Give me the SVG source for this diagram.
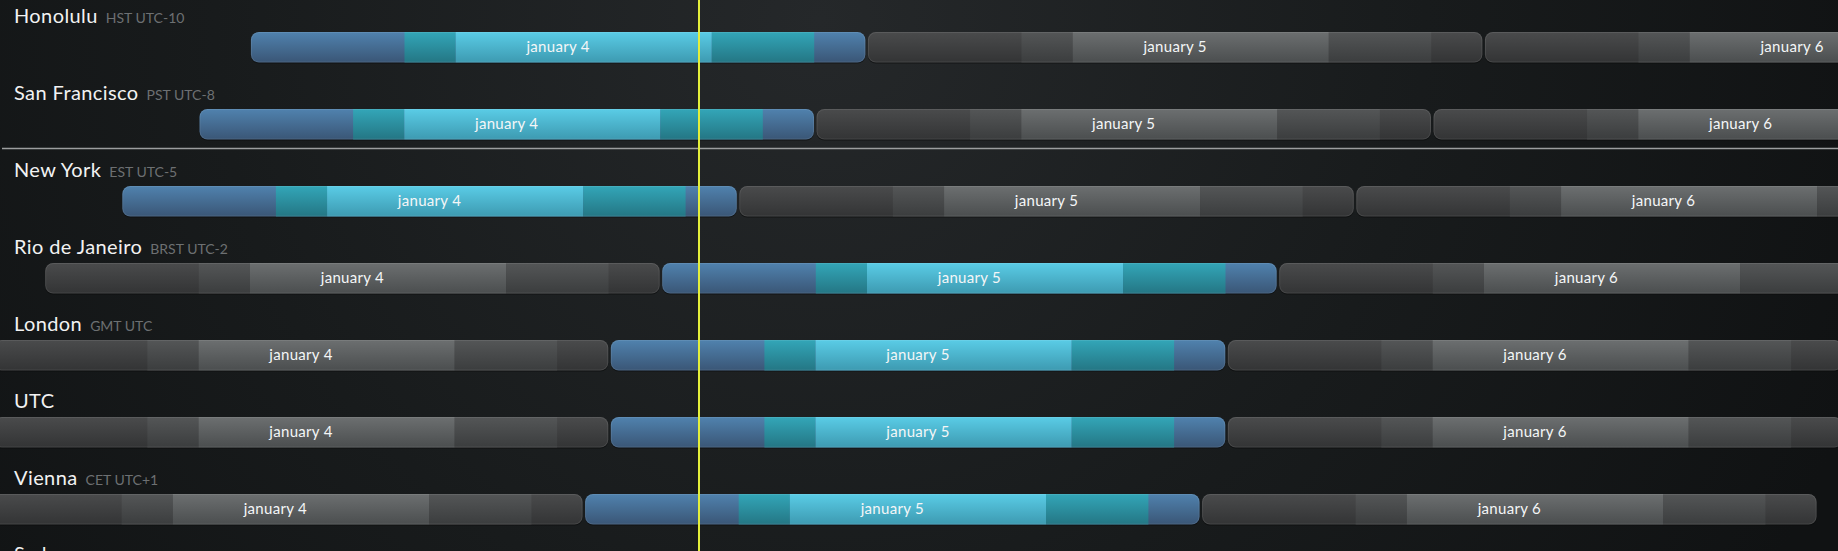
<svg xmlns="http://www.w3.org/2000/svg" width="1838" height="551" viewBox="0 0 1838 551">
<defs>
<radialGradient id="bg" cx="820" cy="20" r="1100" gradientUnits="userSpaceOnUse">
<stop offset="0" stop-color="#25282a"/>
<stop offset="0.55" stop-color="#181b1c"/>
<stop offset="1" stop-color="#101213"/>
</radialGradient>
<linearGradient id="gBlue" x1="0" y1="0" x2="0" y2="1"><stop offset="0" stop-color="#5082ae"/><stop offset="1" stop-color="#3a5676"/></linearGradient>
<linearGradient id="gTeal" x1="0" y1="0" x2="0" y2="1"><stop offset="0" stop-color="#33a6b8"/><stop offset="1" stop-color="#247684"/></linearGradient>
<linearGradient id="gCyan" x1="0" y1="0" x2="0" y2="1"><stop offset="0" stop-color="#5accE6"/><stop offset="1" stop-color="#3d9ab1"/></linearGradient>
<linearGradient id="gDark" x1="0" y1="0" x2="0" y2="1"><stop offset="0" stop-color="#4a4b4c"/><stop offset="1" stop-color="#333435"/></linearGradient>
<linearGradient id="gMid" x1="0" y1="0" x2="0" y2="1"><stop offset="0" stop-color="#545657"/><stop offset="1" stop-color="#3b3d3e"/></linearGradient>
<linearGradient id="gLight" x1="0" y1="0" x2="0" y2="1"><stop offset="0" stop-color="#6c6f70"/><stop offset="1" stop-color="#4b4e4f"/></linearGradient>
<style>
.name{font-family:Lato,"Open Sans","Liberation Sans",sans-serif;font-size:20px;fill:#f2f2f2;letter-spacing:0.4px}
.tz{font-family:Lato,"Open Sans","Liberation Sans",sans-serif;font-size:14px;fill:#6d7072;letter-spacing:0}
.day{font-family:Lato,"Open Sans","Liberation Sans",sans-serif;font-size:15px;fill:#f4f6f7;text-anchor:middle;letter-spacing:0.3px}
.edge{fill:none;stroke:#ffffff;stroke-opacity:0.09;stroke-width:1}
.shadow{fill:#0a0b0c;opacity:0.6}
.sep{stroke:#9c9e9f;stroke-width:1.3}
.now{stroke:#e4ef3a;stroke-width:2}
</style>
<g id="barOn">
<rect class="shadow" x="0" y="1" width="614.5" height="30.5" rx="8"/>
<rect x="0" y="0" width="614.5" height="30.5" rx="8" fill="url(#gBlue)"/>
<rect x="153.6" y="0" width="51.2" height="30.5" fill="url(#gTeal)"/>
<rect x="204.8" y="0" width="256.1" height="30.5" fill="url(#gCyan)"/>
<rect x="460.9" y="0" width="102.4" height="30.5" fill="url(#gTeal)"/>
<rect class="edge" x="0.5" y="0.5" width="613.5" height="29.5" rx="7.5"/>
</g>
<g id="barOff">
<rect class="shadow" x="0" y="1" width="614.5" height="30.5" rx="8"/>
<rect x="0" y="0" width="614.5" height="30.5" rx="8" fill="url(#gDark)"/>
<rect x="153.6" y="0" width="51.2" height="30.5" fill="url(#gMid)"/>
<rect x="204.8" y="0" width="256.1" height="30.5" fill="url(#gLight)"/>
<rect x="460.9" y="0" width="102.4" height="30.5" fill="url(#gMid)"/>
<rect class="edge" x="0.5" y="0.5" width="613.5" height="29.5" rx="7.5"/>
</g>
</defs>
<rect x="0" y="0" width="1838" height="551" fill="url(#bg)"/>

<g id="honolulu">
<text class="name" x="14" y="22.7">Honolulu<tspan class="tz" dx="8">HST UTC-10</tspan></text>
<use href="#barOn" x="250.9" y="32"/><text class="day" x="558.1" y="51.5">january 4</text>
<use href="#barOff" x="867.9" y="32"/><text class="day" x="1175.1" y="51.5">january 5</text>
<use href="#barOff" x="1484.9" y="32"/><text class="day" x="1792.1" y="51.5">january 6</text>
</g>

<g id="san-francisco">
<text class="name" x="14" y="99.7">San Francisco<tspan class="tz" dx="8">PST UTC-8</tspan></text>
<use href="#barOn" x="199.5" y="109"/><text class="day" x="506.7" y="128.5">january 4</text>
<use href="#barOff" x="816.5" y="109"/><text class="day" x="1123.7" y="128.5">january 5</text>
<use href="#barOff" x="1433.5" y="109"/><text class="day" x="1740.7" y="128.5">january 6</text>
</g>

<line class="sep" x1="2" y1="148.5" x2="1838" y2="148.5"/>

<g id="new-york">
<text class="name" x="14" y="176.7">New York<tspan class="tz" dx="8">EST UTC-5</tspan></text>
<use href="#barOn" x="122.3" y="186"/><text class="day" x="429.5" y="205.5">january 4</text>
<use href="#barOff" x="739.3" y="186"/><text class="day" x="1046.5" y="205.5">january 5</text>
<use href="#barOff" x="1356.3" y="186"/><text class="day" x="1663.5" y="205.5">january 6</text>
</g>

<g id="rio-de-janeiro">
<text class="name" x="14" y="253.7">Rio de Janeiro<tspan class="tz" dx="8">BRST UTC-2</tspan></text>
<use href="#barOff" x="45.2" y="263"/><text class="day" x="352.4" y="282.5">january 4</text>
<use href="#barOn" x="662.2" y="263"/><text class="day" x="969.4" y="282.5">january 5</text>
<use href="#barOff" x="1279.2" y="263"/><text class="day" x="1586.4" y="282.5">january 6</text>
</g>

<g id="london">
<text class="name" x="14" y="330.7">London<tspan class="tz" dx="8">GMT UTC</tspan></text>
<use href="#barOff" x="-6.2" y="340"/><text class="day" x="301" y="359.5">january 4</text>
<use href="#barOn" x="610.8" y="340"/><text class="day" x="918" y="359.5">january 5</text>
<use href="#barOff" x="1227.8" y="340"/><text class="day" x="1535" y="359.5">january 6</text>
</g>

<g id="utc">
<text class="name" x="14" y="407.7">UTC</text>
<use href="#barOff" x="-6.2" y="417"/><text class="day" x="301" y="436.5">january 4</text>
<use href="#barOn" x="610.8" y="417"/><text class="day" x="918" y="436.5">january 5</text>
<use href="#barOff" x="1227.8" y="417"/><text class="day" x="1535" y="436.5">january 6</text>
</g>

<g id="vienna">
<text class="name" x="14" y="484.7">Vienna<tspan class="tz" dx="8">CET UTC+1</tspan></text>
<use href="#barOff" x="-31.9" y="494"/><text class="day" x="275.3" y="513.5">january 4</text>
<use href="#barOn" x="585.1" y="494"/><text class="day" x="892.3" y="513.5">january 5</text>
<use href="#barOff" x="1202.1" y="494"/><text class="day" x="1509.3" y="513.5">january 6</text>
</g>

<g id="sydney">
<text class="name" x="14" y="561.2">Sydney</text>
</g>

<g id="connectors">
<line class="now" x1="699" y1="0" x2="699" y2="551"/>
</g>
</svg>
